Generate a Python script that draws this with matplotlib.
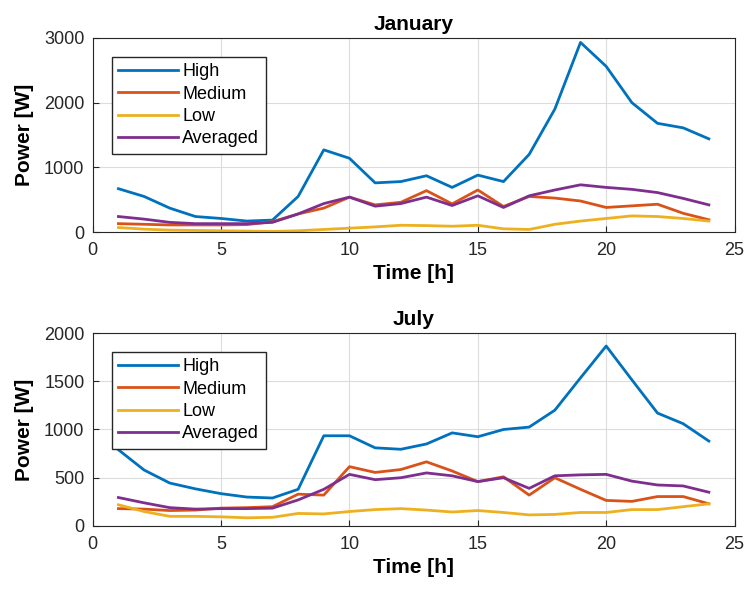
import numpy as np
import matplotlib.pyplot as plt

plt.rcParams['font.family'] = ['Liberation Sans', 'DejaVu Sans']

hours = list(range(1, 25))

# January
jan_high = [670, 550, 370, 240, 210, 170, 185, 550, 1270, 1140, 760, 780, 870, 690, 880,
            780, 1200, 1900, 2930, 2560, 2000, 1680, 1610, 1440]
jan_medium = [130, 120, 110, 110, 110, 115, 160, 280, 370, 540, 420, 460, 640, 435, 650,
              395, 550, 525, 480, 380, 405, 430, 290, 190]
jan_low = [70, 45, 30, 25, 20, 15, 10, 20, 40, 60, 80, 105, 100, 90, 105,
           50, 40, 120, 170, 210, 250, 240, 210, 170]
jan_avg = [240, 200, 150, 130, 130, 130, 150, 280, 440, 540, 400, 440, 540, 410, 560,
           380, 560, 650, 730, 690, 660, 610, 520, 420]

# July
jul_high = [790, 580, 445, 385, 335, 300, 290, 380, 935, 935, 810, 795, 850, 965, 925,
            1000, 1025, 1200, 1535, 1865, 1515, 1170, 1060, 880]
jul_medium = [180, 175, 160, 165, 185, 190, 200, 330, 320, 615, 555, 585, 665, 570, 460,
              510, 320, 500, 380, 265, 255, 305, 305, 230]
jul_low = [220, 150, 100, 100, 95, 85, 90, 130, 125, 150, 170, 180, 165, 145, 160,
           140, 115, 120, 140, 140, 170, 170, 200, 230]
jul_avg = [295, 240, 190, 175, 180, 180, 185, 270, 380, 535, 480, 500, 550, 520, 460,
           500, 390, 520, 530, 535, 465, 425, 415, 350]

labels = ['High', 'Medium', 'Low', 'Averaged']
colors = ['#0072BD', '#D95319', '#EDB120', '#7E2F8E']

fig = plt.figure(figsize=(7.48, 5.92), dpi=100)
ax1 = fig.add_axes([0.124, 0.608, 0.858, 0.328])
ax2 = fig.add_axes([0.124, 0.1115, 0.858, 0.326])

panels = [
    (ax1, 'January', [jan_high, jan_medium, jan_low, jan_avg], 3000, [0, 1000, 2000, 3000]),
    (ax2, 'July', [jul_high, jul_medium, jul_low, jul_avg], 2000, [0, 500, 1000, 1500, 2000]),
]

for ax, title, series, ymax, yticks in panels:
    for ys, lab, c in zip(series, labels, colors):
        ax.plot(hours, ys, color=c, lw=2, label=lab)
    ax.set_xlim(0, 25)
    ax.set_ylim(0, ymax)
    ax.set_xticks([0, 5, 10, 15, 20, 25])
    ax.set_yticks(yticks)
    ax.grid(True, color='#dcdcdc', lw=0.8)
    ax.set_axisbelow(True)
    ax.tick_params(direction='in', labelsize=13, colors='#262626', length=4)
    ax.tick_params(axis='x', pad=7)
    ax.tick_params(axis='y', pad=6)
    for s in ax.spines.values():
        s.set_color('#262626')
        s.set_linewidth(0.8)
    ax.set_title(title, fontsize=15, fontweight='bold', pad=6)
    ax.set_xlabel('Time [h]', fontsize=15, fontweight='bold', labelpad=4)
    ax.set_ylabel('Power [W]', fontsize=15, fontweight='bold', labelpad=7)
    leg = ax.legend(loc='upper left', bbox_to_anchor=(0.03, 0.902), fontsize=13,
                    fancybox=False, edgecolor='#262626', framealpha=1,
                    handlelength=3.3, labelspacing=0.3, handletextpad=0.25,
                    borderpad=0.35, borderaxespad=0)
    leg.get_frame().set_linewidth(1.0)

fig.savefig('out.png', dpi=100)
